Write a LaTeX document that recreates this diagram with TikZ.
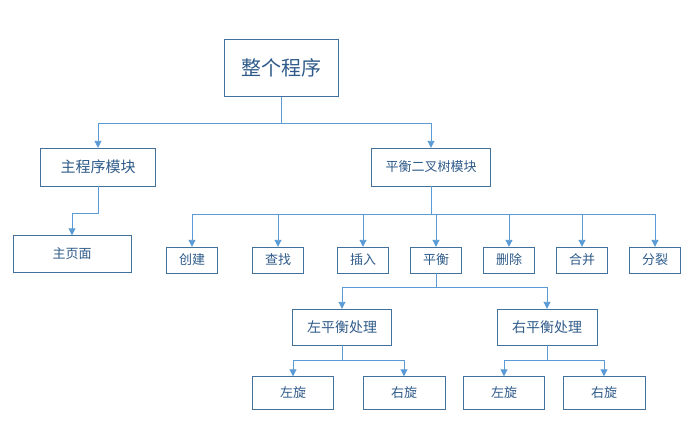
\documentclass[tikz,border=0pt]{standalone}
\usepackage{fontspec}
\newfontfamily\cjk{Noto Sans CJK SC}
\usetikzlibrary{arrows.meta}
\definecolor{boxline}{HTML}{41719C}
\definecolor{boxtext}{HTML}{2F5B8A}
\definecolor{wire}{HTML}{5B9BD5}
\begin{document}
\begin{tikzpicture}[x=1pt,y=-1pt,
  box/.style={draw=boxline,fill=white,text=boxtext,inner sep=0pt,
    font=\cjk\fontsize{13}{15}\selectfont},
  link/.style={draw=wire,line width=0.9pt,-{Triangle[length=7pt,width=7pt]}}]
\useasboundingbox (0,0) rectangle (690,440);
\node[box,minimum width=114,minimum height=57,font=\cjk\fontsize{20}{24}\selectfont] (whole) at (281,68) {整个程序};
\node[box,minimum width=115,minimum height=38,font=\cjk\fontsize{15}{18}\selectfont] (mainmod) at (98,167) {主程序模块};
\node[box,minimum width=119,minimum height=38] (avlmod) at (431,167) {平衡二叉树模块};
\node[box,minimum width=118,minimum height=37] (home) at (72,254) {主页面};
\node[box,minimum width=51,minimum height=26] (create) at (192,260) {创建};
\node[box,minimum width=51,minimum height=26] (find) at (278,260) {查找};
\node[box,minimum width=51,minimum height=26] (insert) at (363,260) {插入};
\node[box,minimum width=51,minimum height=26] (balance) at (436,260) {平衡};
\node[box,minimum width=51,minimum height=26] (delete) at (509,260) {删除};
\node[box,minimum width=51,minimum height=26] (merge) at (582,260) {合并};
\node[box,minimum width=51,minimum height=26] (split) at (655,260) {分裂};
\node[box,minimum width=99,minimum height=36,font=\cjk\fontsize{14}{17}\selectfont] (lbal) at (342,327) {左平衡处理};
\node[box,minimum width=100,minimum height=36,font=\cjk\fontsize{14}{17}\selectfont] (rbal) at (547,327) {右平衡处理};
\node[box,minimum width=81,minimum height=33] (ll) at (293,393) {左旋};
\node[box,minimum width=82,minimum height=33] (lr) at (404,393) {右旋};
\node[box,minimum width=81,minimum height=33] (rl) at (504,393) {左旋};
\node[box,minimum width=82,minimum height=33] (rr) at (604,393) {右旋};
% level one
\draw[link] (whole.south) -- ++(0,27) -| (mainmod.north);
\draw[link] (whole.south) -- ++(0,27) -| (avlmod.north);
\draw[link] (mainmod.south) -- ++(0,27) -| (home.north);
% operations
\foreach \n in {create,find,insert,balance,delete,merge,split}
  \draw[link] (avlmod.south) -- ++(0,28) -| (\n.north);
\draw[link] (balance.south) -- ++(0,14) -| (lbal.north);
\draw[link] (balance.south) -- ++(0,14) -| (rbal.north);
% rotations
\draw[link] (lbal.south) -- ++(0,15) -| (ll.north);
\draw[link] (lbal.south) -- ++(0,15) -| (lr.north);
\draw[link] (rbal.south) -- ++(0,15) -| (rl.north);
\draw[link] (rbal.south) -- ++(0,15) -| (rr.north);
\end{tikzpicture}
\end{document}
